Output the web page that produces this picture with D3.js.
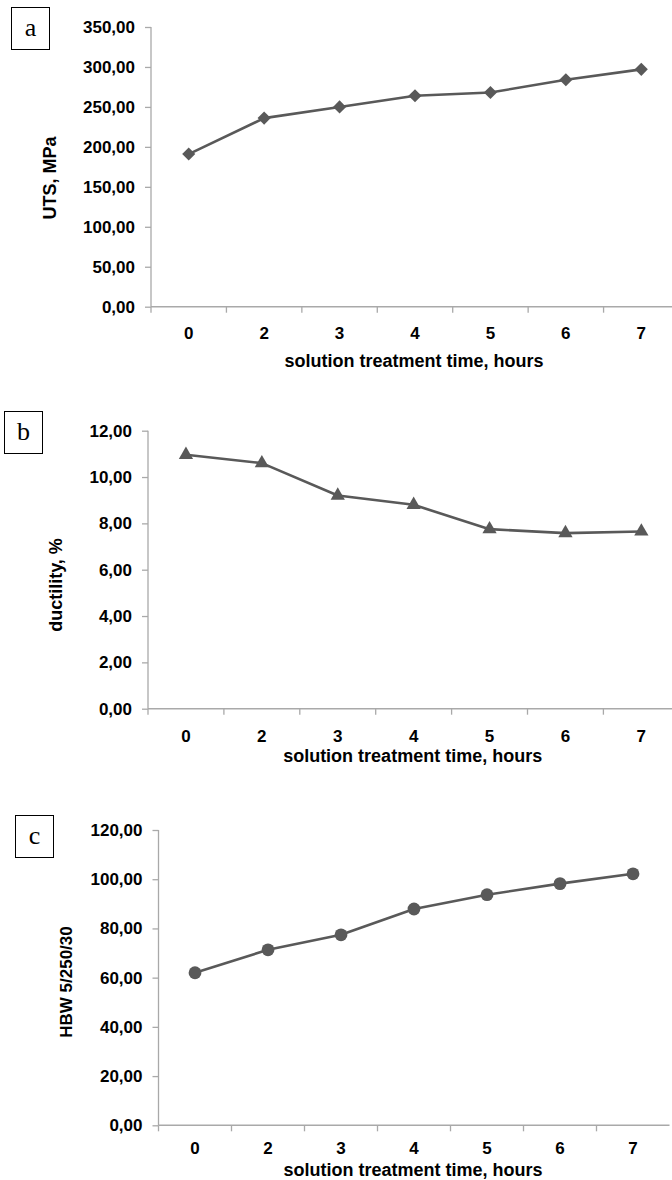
<!DOCTYPE html>
<html>
<head>
<meta charset="utf-8">
<script src="https://cdn.jsdelivr.net/npm/d3@7"></script>
<style>
  body { margin: 0; background: #fff; }
  svg { display: block; }
  text { font-family: "Liberation Sans", Arial, sans-serif; font-weight: bold; fill: #000; }
  .tag { font-family: "Liberation Serif", "Times New Roman", serif; font-weight: normal; }
</style>
</head>
<body>
<svg width="672" height="1180"></svg>
<script>
// data
const categories = ["0", "2", "3", "4", "5", "6", "7"];
const utsValues = [191, 236, 250, 264, 268, 284, 297];
const ductilityValues = [10.96, 10.6, 9.2, 8.8, 7.75, 7.58, 7.65];
const hbwValues = [62.0, 71.3, 77.4, 87.9, 93.7, 98.2, 102.2];
const utsTicks = [0, 50, 100, 150, 200, 250, 300, 350];
const ductilityTicks = [0, 2, 4, 6, 8, 10, 12];
const hbwTicks = [0, 20, 40, 60, 80, 100, 120];
const xTitle = "solution treatment time, hours";

const svg = d3.select("svg");
const fmt = d3.formatLocale({decimal: ",", thousands: ".", grouping: [3], currency: ["", ""]}).format(".2f");

const lineColor = "#595959";
const axisColor = "#a9a9a9";

const panels = [
    {tag: "a", box: [11, 7], values: utsValues, ticks: utsTicks, yLabel: "UTS, MPa", yLabelX: 56, yLabelY: 178, yLabelSize: 18,
     left: 151, right: 679, top: 27, bottom: 306.7, marker: "diamond", titleY: 367, tickY: 333},
    {tag: "b", box: [4, 411], values: ductilityValues, ticks: ductilityTicks, yLabel: "ductility, %", yLabelX: 62, yLabelY: 585, yLabelSize: 18,
     left: 148, right: 679.3, top: 430.7, bottom: 708.7, marker: "triangle", titleY: 762, tickY: 736},
    {tag: "c", box: [15, 815], values: hbwValues, ticks: hbwTicks, yLabel: "HBW 5/250/30", yLabelX: 72, yLabelY: 982, yLabelSize: 17,
     left: 158.5, right: 669.5, top: 830, bottom: 1125.3, marker: "circle", titleY: 1176, tickY: 1148}
];

panels.forEach(function(p) {
    const g = svg.append("g");

    const x = d3.scaleBand().domain(categories).range([p.left, p.right]).padding(0);
    const y = d3.scaleLinear().domain([0, d3.max(p.ticks)]).range([p.bottom, p.top]);

    // y axis
    const yAxis = g.append("g")
        .attr("transform", `translate(${p.left},0)`)
        .call(d3.axisLeft(y).tickValues(p.ticks).tickFormat(fmt).tickSize(6).tickPadding(10));
    yAxis.select(".domain").attr("stroke", axisColor).attr("stroke-width", 1.3).attr("d", `M0,${p.bottom}V${p.top}`);
    yAxis.selectAll(".tick line").attr("stroke", axisColor).attr("stroke-width", 1.3);
    yAxis.selectAll(".tick text")
        .attr("font-size", 17).attr("font-family", "Liberation Sans, Arial, sans-serif")
        .attr("font-weight", "bold").attr("fill", "#000");

    // x axis (labels centred in the bands, ticks on band edges)
    const xAxis = g.append("g")
        .attr("transform", `translate(0,${p.bottom})`)
        .call(d3.axisBottom(x).tickSize(0).tickPadding(0));
    xAxis.select(".domain").attr("stroke", axisColor).attr("stroke-width", 1.6).attr("d", `M${p.left},0H${p.right}`);
    xAxis.selectAll(".tick text")
        .attr("y", p.tickY - p.bottom).attr("dy", "0.35em")
        .attr("font-size", 17).attr("font-family", "Liberation Sans, Arial, sans-serif")
        .attr("font-weight", "bold").attr("fill", "#000");
    g.append("g").selectAll("line")
        .data(categories)
        .enter().append("line")
        .attr("x1", d => x(d)).attr("x2", d => x(d))
        .attr("y1", p.bottom).attr("y2", p.bottom + 6)
        .attr("stroke", axisColor).attr("stroke-width", 1.3);

    // axis titles
    g.append("text")
        .attr("x", (p.left + p.right) / 2 - 1).attr("y", p.titleY)
        .attr("text-anchor", "middle").attr("font-size", 18)
        .text(xTitle);
    g.append("text")
        .attr("transform", `translate(${p.yLabelX},${p.yLabelY}) rotate(-90)`)
        .attr("text-anchor", "middle").attr("font-size", p.yLabelSize)
        .text(p.yLabel);

    // tag box
    g.append("rect")
        .attr("x", p.box[0] + 0.5).attr("y", p.box[1] + 0.5)
        .attr("width", 38).attr("height", 42)
        .attr("fill", "#fff").attr("stroke", "#000").attr("stroke-width", 1);
    g.append("text").attr("class", "tag")
        .attr("x", p.box[0] + 19.5).attr("y", p.box[1] + 29)
        .attr("text-anchor", "middle").attr("font-size", 26)
        .text(p.tag);

    // series
    const pts = categories.map((c, i) => [x(c) + x.bandwidth() / 2, y(p.values[i])]);
    const line = d3.line();
    g.append("path")
        .attr("d", line(pts))
        .attr("fill", "none").attr("stroke", lineColor)
        .attr("stroke-width", 2.6).attr("stroke-linejoin", "round");

    let sym;
    if (p.marker === "diamond") sym = d3.symbol().type(d3.symbolSquare).size(86);
    else if (p.marker === "triangle") sym = d3.symbol().type(d3.symbolTriangle).size(88);
    else sym = d3.symbol().type(d3.symbolCircle).size(Math.PI * 6.4 * 6.4);

    g.append("g").selectAll("path")
        .data(pts)
        .enter().append("path")
        .attr("d", sym)
        .attr("transform", d => p.marker === "diamond"
            ? `translate(${d[0]},${d[1]}) rotate(45)`
            : `translate(${d[0]},${d[1]})`)
        .attr("fill", lineColor);
});
</script>
</body>
</html>
